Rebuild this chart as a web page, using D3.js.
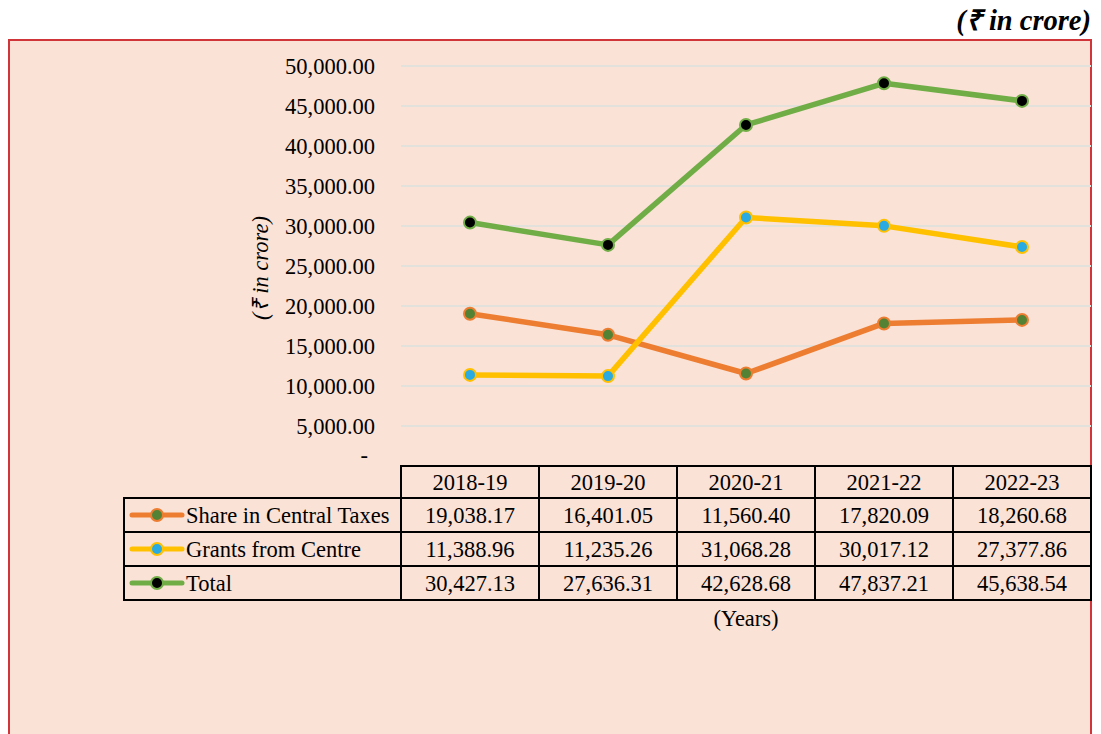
<!DOCTYPE html>
<html>
<head>
<meta charset="utf-8">
<script src="https://cdn.jsdelivr.net/npm/d3@7"></script>
<style>
  body { margin: 0; background: #fff; }
  text { font-family: "Liberation Serif", "Times New Roman", serif; fill: #000; }
</style>
</head>
<body>
<div id="chart"></div>
<script>
// data
var years = ["2018-19", "2019-20", "2020-21", "2021-22", "2022-23"];
var shareCentral = [19038.17, 16401.05, 11560.40, 17820.09, 18260.68];
var grantsCentre = [11388.96, 11235.26, 31068.28, 30017.12, 27377.86];
var totals = [30427.13, 27636.31, 42628.68, 47837.21, 45638.54];
var yTicks = [0, 5000, 10000, 15000, 20000, 25000, 30000, 35000, 40000, 45000, 50000];

var series = [
	{ name: "Share in Central Taxes", values: shareCentral, line: "#ED7D31", fill: "#548235" },
	{ name: "Grants from Centre", values: grantsCentre, line: "#FFC000", fill: "#29ABE2" },
	{ name: "Total", values: totals, line: "#70AD47", fill: "#000000" }
];

var width = 1101, height = 734;
var fs = "22.5px";

var svg = d3.select("#chart").append("svg")
	.attr("width", width)
	.attr("height", height);

// background box
svg.append("rect")
	.attr("x", 9).attr("y", 40)
	.attr("width", 1082).attr("height", 710)
	.attr("fill", "#FAE2D6")
	.attr("stroke", "#D0353A")
	.attr("stroke-width", 2);

// unit note, top right
svg.append("text")
	.attr("x", 1091).attr("y", 30)
	.attr("text-anchor", "end")
	.style("font-size", "28.5px")
	.style("font-weight", "bold")
	.style("font-style", "italic")
	.text("(₹ in crore)");

// scales
var x = d3.scaleBand().domain(years).range([401, 1091]);
var y = d3.scaleLinear().domain([0, 50000]).range([466, 66]);

// gridlines
svg.append("g").selectAll("line")
	.data(yTicks.filter(function(d) { return d > 0; }))
	.enter().append("line")
	.attr("x1", 401).attr("x2", 1091)
	.attr("y1", function(d) { return y(d); })
	.attr("y2", function(d) { return y(d); })
	.attr("stroke", "#E3E1DC")
	.attr("stroke-width", 2);

// y axis labels
var fmt = d3.format(",.2f");
var yAxis = d3.axisLeft(y)
	.tickValues(yTicks)
	.tickSize(0)
	.tickPadding(0)
	.tickFormat(function(d) { return d === 0 ? "-" : fmt(d); });

var ya = svg.append("g")
	.attr("transform", "translate(375,0)")
	.call(yAxis);
ya.select(".domain").remove();
ya.selectAll("text")
	.style("font-size", fs)
	.style("font-family", "'Liberation Serif', serif");
ya.selectAll(".tick").filter(function(d) { return d === 0; }).select("text")
	.attr("x", -7).attr("dy", "-0.15em");

// y axis title
svg.append("text")
	.attr("transform", "translate(268,268) rotate(-90)")
	.attr("text-anchor", "middle")
	.style("font-size", fs)
	.style("font-style", "italic")
	.text("(₹ in crore)");

// lines
var line = d3.line()
	.x(function(d, i) { return x(years[i]) + x.bandwidth() / 2; })
	.y(function(d) { return y(d); });

series.forEach(function(s) {
	svg.append("path")
		.datum(s.values)
		.attr("d", line)
		.attr("fill", "none")
		.attr("stroke", s.line)
		.attr("stroke-width", 5.5)
		.attr("stroke-linejoin", "round");
});

series.forEach(function(s) {
	svg.append("g").selectAll("circle")
		.data(s.values)
		.enter().append("circle")
		.attr("cx", function(d, i) { return x(years[i]) + x.bandwidth() / 2; })
		.attr("cy", function(d) { return y(d); })
		.attr("r", 6)
		.attr("fill", s.fill)
		.attr("stroke", s.line)
		.attr("stroke-width", 2);
});

// data table
var rowH = 34;
var tTop = 466;
var legLeft = 124;
var tbl = svg.append("g");

// header cells
tbl.selectAll(".hdr")
	.data(years)
	.enter().append("rect")
	.attr("x", function(d) { return x(d); })
	.attr("y", tTop)
	.attr("width", x.bandwidth())
	.attr("height", rowH - 2)
	.attr("fill", "none")
	.attr("stroke", "#000")
	.attr("stroke-width", 2);

tbl.selectAll(".hdrtext")
	.data(years)
	.enter().append("text")
	.attr("x", function(d) { return x(d) + x.bandwidth() / 2; })
	.attr("y", tTop + 24)
	.attr("text-anchor", "middle")
	.style("font-size", fs)
	.text(function(d) { return d; });

series.forEach(function(s, r) {
	var top = tTop + 32 + r * rowH;
	// legend cell
	tbl.append("rect")
		.attr("x", legLeft).attr("y", top)
		.attr("width", 401 - legLeft).attr("height", rowH)
		.attr("fill", "none")
		.attr("stroke", "#000")
		.attr("stroke-width", 2);
	tbl.append("line")
		.attr("x1", 132).attr("x2", 182)
		.attr("y1", top + rowH / 2).attr("y2", top + rowH / 2)
		.attr("stroke", s.line)
		.attr("stroke-width", 5)
		.attr("stroke-linecap", "round");
	tbl.append("circle")
		.attr("cx", 157).attr("cy", top + rowH / 2)
		.attr("r", 6)
		.attr("fill", s.fill)
		.attr("stroke", s.line)
		.attr("stroke-width", 2);
	tbl.append("text")
		.attr("x", 186).attr("y", top + 25)
		.style("font-size", fs)
		.text(s.name);

	// value cells
	tbl.append("g").selectAll("rect")
		.data(s.values)
		.enter().append("rect")
		.attr("x", function(d, i) { return x(years[i]); })
		.attr("y", top)
		.attr("width", x.bandwidth())
		.attr("height", rowH)
		.attr("fill", "none")
		.attr("stroke", "#000")
		.attr("stroke-width", 2);
	tbl.append("g").selectAll("text")
		.data(s.values)
		.enter().append("text")
		.attr("x", function(d, i) { return x(years[i]) + x.bandwidth() / 2; })
		.attr("y", top + 25)
		.attr("text-anchor", "middle")
		.style("font-size", fs)
		.text(function(d) { return fmt(d); });
});

// x axis title
svg.append("text")
	.attr("x", 746).attr("y", 626)
	.attr("text-anchor", "middle")
	.style("font-size", fs)
	.text("(Years)");
</script>
</body>
</html>
